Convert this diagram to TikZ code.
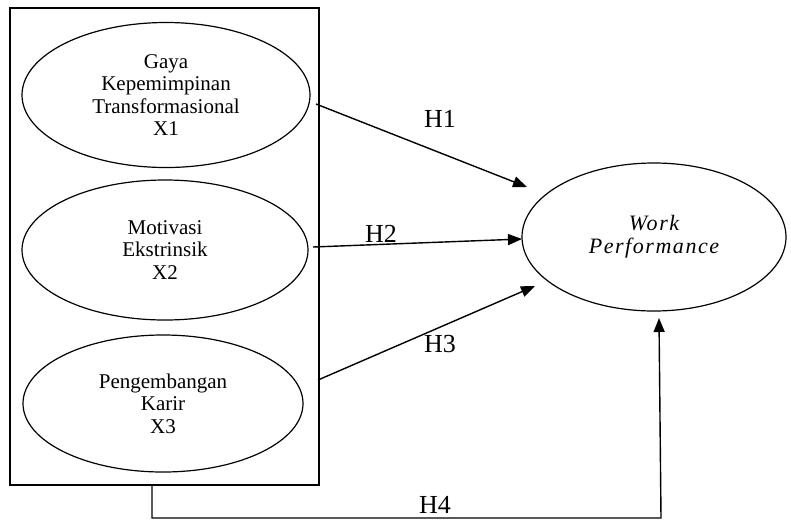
\documentclass[tikz,border=0pt]{standalone}
\usepackage{fontspec}
\setmainfont{Liberation Serif}
\newfontfamily\wpfont[LetterSpace=7]{Liberation Serif}
\usetikzlibrary{arrows.meta,shapes.geometric}
\begin{document}
\begin{tikzpicture}[x=1pt,y=-1pt,
  line width=1.4pt,
  var/.style={draw, ellipse, line width=1.2pt, inner sep=0pt, align=center,
    font=\fontsize{21}{22.5}\selectfont},
  hyp/.style={font=\fontsize{26}{28}\selectfont, inner sep=0pt},
  arr/.style={-{Triangle[length=14pt,width=11pt]}}]
\useasboundingbox (0,0) rectangle (791,520);
\node[draw, rectangle, minimum width=309pt, minimum height=477pt, inner sep=0pt] (box) at (164.5,246.5) {};
\node[var, minimum width=288pt, minimum height=145pt] (x1) at (166,95) {Gaya\\Kepemimpinan\\Transformasional\\X1};
\node[var, minimum width=286pt, minimum height=140pt] (x2) at (165,250) {Motivasi\\Ekstrinsik\\X2};
\node[var, minimum width=280pt, minimum height=137pt] (x3) at (163,403.5) {Pengembangan\\Karir\\X3};
\node[draw, ellipse, line width=1.2pt, inner sep=0pt, align=center,
  minimum width=264pt, minimum height=148pt,
  font=\fontsize{22}{23}\selectfont\wpfont\itshape] (y) at (654,237) {Work\\Performance};
\coordinate (s1) at (316,104);
\coordinate (e1) at (527,187);
\coordinate (s2) at (313,247);
\coordinate (e2) at (522,239);
\coordinate (s3) at (318,380);
\coordinate (e3) at (535,286);
\coordinate (b4) at (152,485);
\coordinate (c4) at (152,518);
\coordinate (d4) at (661,518);
\coordinate (e4) at (659,318);
\draw[arr] (s1) -- (e1);
\draw[arr] (s2) -- (e2);
\draw[arr] (s3) -- (e3);
\draw[arr] (b4) -- (c4) -- (d4) -- (e4);
\node[hyp] (h1) at (440,119) {H1};
\node[hyp] (h2) at (381,234) {H2};
\node[hyp] (h3) at (440,344) {H3};
\node[hyp] (h4) at (435,505) {H4};
\end{tikzpicture}
\end{document}
